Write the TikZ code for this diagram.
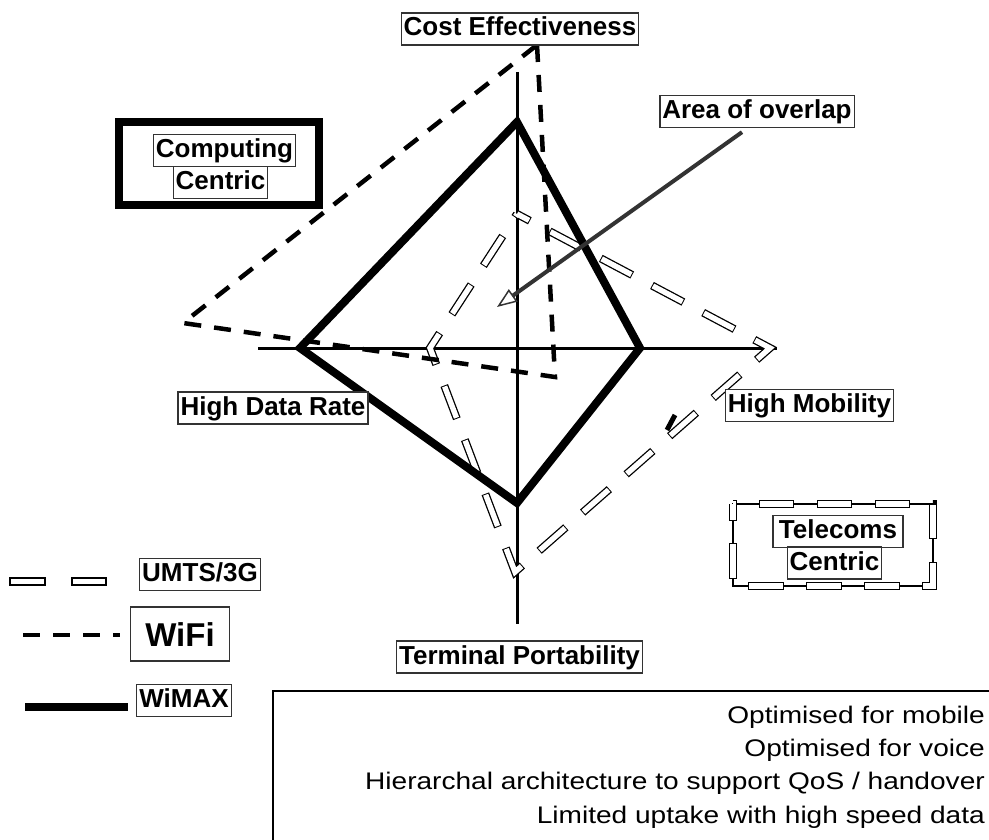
\documentclass[tikz,border=0pt]{standalone}
\usepackage{fontspec}
\setmainfont{Liberation Sans}
\newfontfamily\widefont[FakeStretch=1.17]{Liberation Sans}
\usetikzlibrary{arrows.meta}

\tikzset{
  axis/.style={line width=3pt},
  wifi/.style={line width=4.5pt, dash pattern=on 17pt off 13pt, line join=miter},
  wimax/.style={line width=8pt, line join=miter},
  umts/.style={line width=8pt, dash pattern=on 35.5pt off 22.4pt, dash phase=#1, line join=miter,
     postaction={draw=white, line width=5.4pt, dash pattern=on 33.5pt off 24.4pt, dash phase=#1+56.9pt}},
  umts/.default=0pt,
  lbl/.style={draw=black!80, line width=1.3pt, fill=white,
     font=\bfseries\fontsize{26}{30}\selectfont,
     inner xsep=2.5pt, inner ysep=4pt, text height=19pt, text depth=5pt},
}

\begin{document}
\begin{tikzpicture}[x=1pt,y=-1pt]
   \clip (0,0) rectangle (989,840);
   \fill[white] (0,0) rectangle (989,840);

   % axes
   \coordinate (ax-t) at (517,72);
   \coordinate (ax-b) at (517,624);
   \coordinate (ax-l) at (258,348);
   \coordinate (ax-r) at (777,348);
   \draw[axis] (ax-t) -- (ax-b);
   \draw[axis] (ax-l) -- (ax-r);

   % the three profiles
   \draw[umts=20.95pt] (517,214) -- (770,348) -- (515,572) -- (430,348) -- cycle;
   \draw[line width=5pt] (667,430) -- (675,415);
   \draw[wifi] (537,45) -- (555,377) -- (183,323) -- cycle;
   \draw[wimax] (517,122) -- (640,348) -- (517,503) -- (300,348) -- cycle;

   % axis labels
   \node[lbl] (cost) at (520,29) {Cost Effectiveness};
   \node[lbl] (mobility) at (809.5,405.5) {High Mobility};
   \node[lbl] (datarate) at (273,408) {High Data Rate};
   \node[lbl] (terminal) at (519.5,657) {Terminal Portability};

   \node[lbl] (overlap) at (757,111.5) {Area of overlap};
   \coordinate (overlap-tip) at (497,307);
   \draw[line width=4pt, black!80, -{Triangle[open, length=20pt, width=15pt, line width=1.5pt]}]
      ([shift={(-15,4)}]overlap.south) -- (overlap-tip);

   % computing / telecoms
   \draw[line width=8pt] (119,122) rectangle (319,205);
   \node[lbl] (computing) at (224.5,150.5) {Computing};
   \node[lbl] (centric-c) at (220.5,182.5) {Centric};

   \draw[line width=1.3pt] (733,504) rectangle (933,586);
   \draw[umts=18.5pt] (733,504) rectangle (933,586);
   \node[lbl, minimum width=130pt] (telecoms) at (838,531.5) {Telecoms};
   \node[lbl] (centric-t) at (834.5,563) {Centric};

   % legend
   \draw[line width=1.3pt] (10,578) rectangle (45,585);
   \draw[line width=1.3pt] (72,578) rectangle (106,585);
   \node[lbl] (umts-lbl) at (200,574.5) {UMTS/3G};
   \draw[wifi] (23,635) -- (120,635);
   \node[lbl, font=\bfseries\fontsize{33}{36}\selectfont, inner xsep=15pt, inner ysep=15pt,
      text height=24pt, text depth=0pt] (wifi-lbl) at (180,634) {WiFi};
   \draw[wimax] (25,707) -- (128,707);
   \node[lbl] (wimax-lbl) at (184,700.5) {WiMAX};

   % notes
   \draw[line width=1.5pt] (273,691) rectangle (1000,860);
   \node[anchor=east, align=right, inner sep=0pt, font=\widefont\fontsize{24}{33.3}\selectfont] (notes) at (985,767)
      {Optimised for mobile\\Optimised for voice\\Hierarchal architecture to support QoS / handover\\Limited uptake with high speed data};
\end{tikzpicture}
\end{document}
